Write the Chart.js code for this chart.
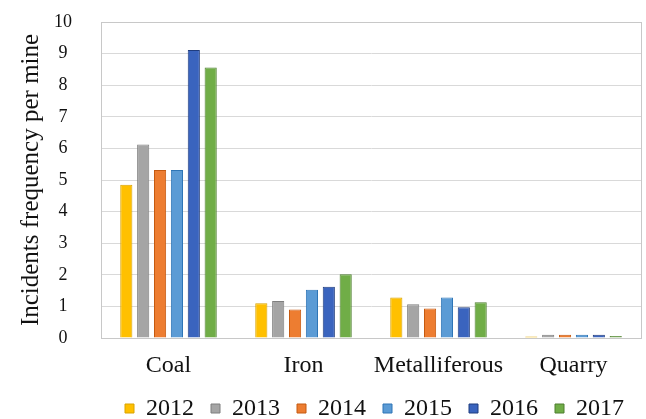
<!DOCTYPE html>
<html>
<head>
<meta charset="utf-8">
<script src="https://cdn.jsdelivr.net/npm/chart.js@4"></script>
<style>
  html, body { margin: 0; padding: 0; background: #fff; }
  #wrap { width: 646px; height: 419px; }
</style>
</head>
<body>
<div id="wrap"><canvas id="mineChart" width="646" height="419"></canvas></div>
<script>
// Chart data
const categories = ['Coal', 'Iron', 'Metalliferous', 'Quarry'];
const years = ['2012', '2013', '2014', '2015', '2016', '2017'];
const values2012 = [4.85, 1.10, 1.28, 0.05];
const values2013 = [6.12, 1.17, 1.07, 0.10];
const values2014 = [5.32, 0.90, 0.93, 0.10];
const values2015 = [5.32, 1.53, 1.28, 0.10];
const values2016 = [9.11, 1.62, 0.97, 0.10];
const values2017 = [8.56, 2.02, 1.13, 0.06];
const yTicks = [0, 1, 2, 3, 4, 5, 6, 7, 8, 9, 10];

const fillColors = ['#FFC000', '#A5A5A5', '#ED7D31', '#5B9BD5', '#3A64BE', '#70AD47'];
const edgeColors = ['#D9A300', '#7F7F7F', '#C55A11', '#2E75B6', '#1F3C7E', '#4E7F30'];
const allValues = [values2012, values2013, values2014, values2015, values2016, values2017];

const serif = 'Liberation Serif';

// box around the plot area
const frame = {
    id: 'frame',
    afterDraw(chart) {
        const a = chart.chartArea;
        const c = chart.ctx;
        c.save();
        c.strokeStyle = '#c8c8c8';
        c.lineWidth = 1;
        c.strokeRect(Math.round(a.left) + 0.5, Math.round(a.top) + 0.5,
            Math.round(a.right - a.left), Math.round(a.bottom - a.top));
        c.restore();
    }
};

const ctx = document.getElementById('mineChart').getContext('2d');
new Chart(ctx, {
    type: 'bar',
    data: {
        labels: categories,
        datasets: years.map((y, i) => ({
            label: y,
            data: allValues[i],
            backgroundColor: fillColors[i],
            borderColor: edgeColors[i],
            borderWidth: 1,
            categoryPercentage: 0.75,
            barPercentage: 0.72
        }))
    },
    options: {
        responsive: false,
        animation: false,
        layout: { padding: { top: 22, right: 5, left: 16, bottom: -11.5 } },
        scales: {
            x: {
                afterFit(axis) {
                    axis.height = 41.5;
                },
                grid: { display: false, drawTicks: false },
                border: { display: true, color: '#c8c8c8' },
                ticks: {
                    color: '#111',
                    font: { family: serif, size: 24 },
                    padding: 13,
                    maxRotation: 0,
                    minRotation: 0,
                    autoSkip: false
                }
            },
            y: {
                min: 0,
                max: 10,
                afterBuildTicks(axis) {
                    axis.ticks = yTicks.map(v => ({ value: v }));
                },
                afterFit(axis) {
                    // keep the plot where the reference has it
                    axis.width = 85;
                    axis.paddingTop = 0;
                    axis.paddingBottom = 0;
                },
                grid: { color: '#d9d9d9', drawTicks: false },
                border: { display: true, color: '#c8c8c8' },
                ticks: {
                    color: '#111',
                    font: { family: serif, size: 18 },
                    padding: 29,
                    crossAlign: 'center'
                },
                title: {
                    display: true,
                    text: 'Incidents frequency per mine',
                    color: '#111',
                    font: { family: serif, size: 25 },
                    padding: { top: 0, bottom: 7 }
                }
            }
        },
        plugins: {
            legend: {
                position: 'bottom',
                align: 'end',
                labels: {
                    color: '#111',
                    font: { family: serif, size: 24 },
                    boxWidth: 9,
                    boxHeight: 9,
                    padding: 17
                }
            },
            tooltip: { enabled: false }
        }
    },
    plugins: [frame]
});
</script>
</body>
</html>
